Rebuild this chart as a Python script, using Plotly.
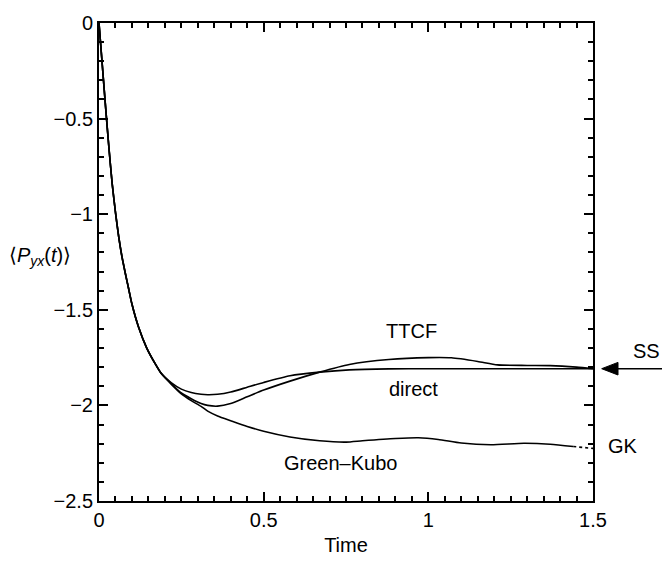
import plotly.graph_objects as go

# ---- data ----
t_common = [0.0, 0.01, 0.02, 0.03, 0.04, 0.05, 0.06, 0.07, 0.08, 0.09, 0.10, 0.12, 0.145, 0.17, 0.19]
p_common = [0.0, -0.22, -0.44, -0.65, -0.84, -0.99, -1.12, -1.225, -1.31, -1.39, -1.47, -1.59, -1.70, -1.78, -1.835]

t_direct = [0.22, 0.25, 0.28, 0.31, 0.33, 0.36, 0.40, 0.45, 0.50, 0.58, 0.67, 0.76, 0.88, 1.0, 1.1, 1.2, 1.3, 1.4, 1.5]
p_direct = [-1.882, -1.915, -1.933, -1.942, -1.944, -1.942, -1.93, -1.905, -1.88, -1.845, -1.826, -1.814, -1.809, -1.808, -1.808, -1.808, -1.808, -1.808, -1.808]

t_ttcf = [0.22, 0.25, 0.28, 0.31, 0.33, 0.36, 0.40, 0.45, 0.50, 0.58, 0.67, 0.76, 0.88, 1.0, 1.07, 1.15, 1.21, 1.30, 1.37, 1.45, 1.5]
p_ttcf = [-1.888, -1.935, -1.965, -1.99, -2.0, -2.004, -1.99, -1.955, -1.92, -1.873, -1.826, -1.786, -1.76, -1.75, -1.751, -1.77, -1.788, -1.791, -1.792, -1.80, -1.808]

t_gk = [0.22, 0.25, 0.28, 0.31, 0.33, 0.36, 0.40, 0.45, 0.50, 0.58, 0.67, 0.75, 0.80, 0.90, 0.97, 1.03, 1.10, 1.19, 1.29, 1.37, 1.44]
p_gk = [-1.89, -1.94, -1.975, -2.005, -2.03, -2.055, -2.08, -2.11, -2.135, -2.165, -2.185, -2.192, -2.185, -2.173, -2.169, -2.178, -2.197, -2.206, -2.198, -2.203, -2.215]

t_gk_tail = [1.44, 1.5]
p_gk_tail = [-2.215, -2.225]

ss_value = -1.808

x_ticks = [0, 0.5, 1, 1.5]
x_ticktext = ["0", "0.5", "1", "1.5"]
y_ticks = [0, -0.5, -1, -1.5, -2, -2.5]
y_ticktext = ["0", "\u22120.5", "\u22121", "\u22121.5", "\u22122", "\u22122.5"]

FONT = "Liberation Sans, Arial, Helvetica, sans-serif"
LW = 1.6

fig = go.Figure()
for tt, pp in [(t_direct, p_direct), (t_ttcf, p_ttcf), (t_gk, p_gk)]:
    fig.add_trace(go.Scatter(x=t_common + tt, y=p_common + pp, mode="lines",
                             line=dict(color="black", width=LW, shape="spline", smoothing=0.6),
                             showlegend=False, hoverinfo="skip"))
fig.add_trace(go.Scatter(x=t_gk_tail, y=p_gk_tail, mode="lines",
                         line=dict(color="black", width=LW, dash="dot"),
                         showlegend=False, hoverinfo="skip"))

axis_common = dict(showline=True, linewidth=2, linecolor="black", mirror="allticks",
                   ticks="inside", ticklen=9, tickwidth=1.5, tickcolor="black",
                   showgrid=False, zeroline=False,
                   tickfont=dict(family=FONT, size=20, color="black"))

fig.update_xaxes(range=[0, 1.5], tickmode="array", tickvals=x_ticks, ticktext=x_ticktext,
                 minor=dict(dtick=0.05, tick0=0, ticks="inside", ticklen=5, tickwidth=1.5, tickcolor="black", showgrid=False),
                 title=dict(text="Time", font=dict(family=FONT, size=20, color="black"), standoff=8),
                 **axis_common)
fig.update_yaxes(range=[-2.5, 0], tickmode="array", tickvals=y_ticks, ticktext=y_ticktext,
                 minor=dict(dtick=0.1, tick0=0, ticks="inside", ticklen=5, tickwidth=1.5, tickcolor="black", showgrid=False),
                 **axis_common)

ann_font = dict(family=FONT, size=20, color="black")
C = dict(showarrow=False, font=ann_font, xanchor="center", yanchor="middle")
annotations = [
    dict(x=0.948, y=-1.613, xref="x", yref="y", text="TTCF", **C),
    dict(x=0.955, y=-1.912, xref="x", yref="y", text="direct", **C),
    dict(x=0.733, y=-2.30, xref="x", yref="y", text="Green\u2013Kubo", **C),
    dict(x=(623 - 99) / 494, y=-2.21, xref="paper", yref="y", text="GK", **C),
    dict(x=(646.5 - 99) / 494, y=-1.717, xref="paper", yref="y", text="SS", **C),
    dict(x=(40 - 99) / 494, y=1 - (255 - 14) / 493, xref="paper", yref="paper",
         text="\u27e8<i>P</i><sub><i>yx</i></sub>(<i>t</i>)\u27e9", **C),
]

# SS arrow (line + filled head) drawn outside the plot on the right
tip = (601.7 - 99) / 494
base = (618 - 99) / 494
end = (662 - 99) / 494
half = 6.5 / 197.2
shapes = [
    dict(type="line", xref="paper", yref="y", x0=base, x1=end, y0=ss_value, y1=ss_value,
         line=dict(color="black", width=1.5)),
    dict(type="path", xref="paper", yref="y",
         path=f"M {tip},{ss_value} L {base},{ss_value + half} L {base},{ss_value - half} Z",
         fillcolor="black", line=dict(color="black", width=1)),
]

fig.update_layout(width=662, height=565, autosize=False,
                  margin=dict(l=99, r=69, t=14, b=58),
                  paper_bgcolor="white", plot_bgcolor="white",
                  annotations=annotations, shapes=shapes,
                  font=dict(family=FONT, size=20, color="black"))

fig.write_html("out.html")
